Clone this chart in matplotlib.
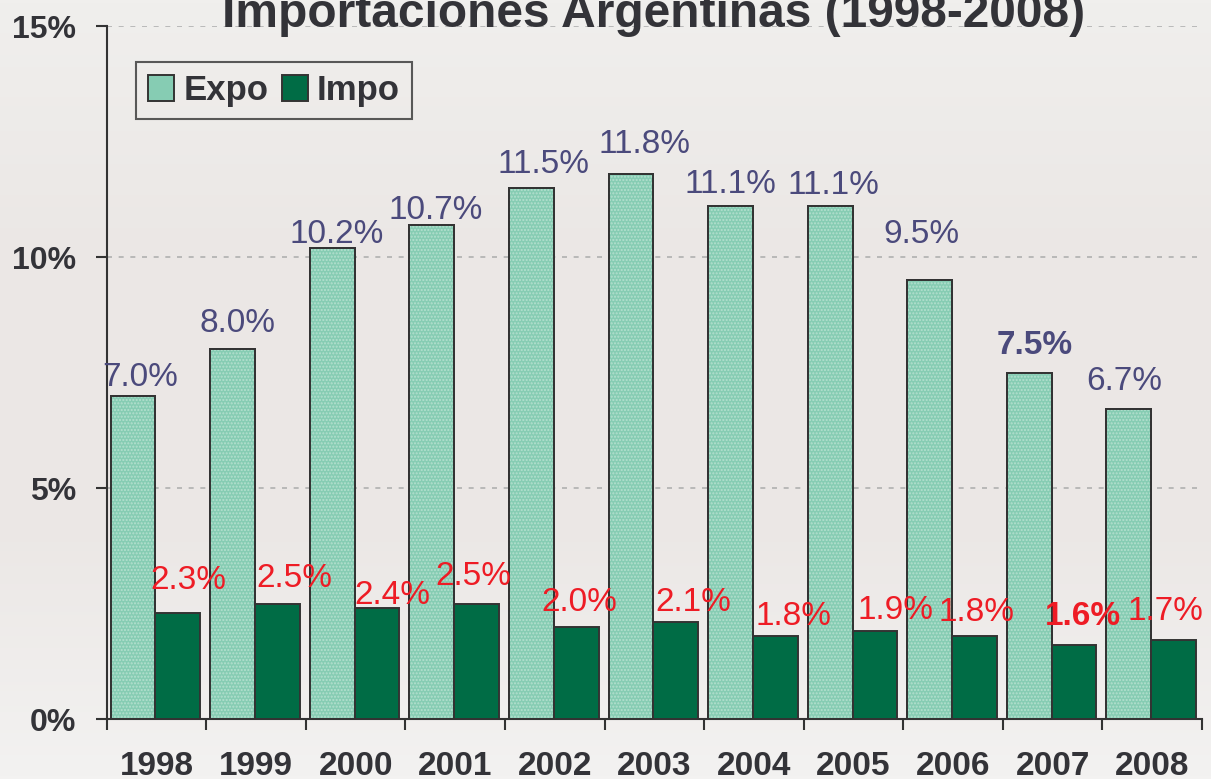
import numpy as np
import matplotlib
matplotlib.use("Agg")
import matplotlib.pyplot as plt
from matplotlib.colors import LinearSegmentedColormap

plt.rcParams['font.family'] = ['Liberation Sans', 'DejaVu Sans']

# data
years = ['1998', '1999', '2000', '2001', '2002', '2003', '2004', '2005', '2006', '2007', '2008']
expo = [7.0, 8.0, 10.2, 10.7, 11.5, 11.8, 11.1, 11.1, 9.5, 7.5, 6.7]
impo = [2.3, 2.5, 2.4, 2.5, 2.0, 2.1, 1.8, 1.9, 1.8, 1.6, 1.7]
bold_year = '2007'

# label nudges (pixels, relative to bar top centre)
expo_dx = [7, 5, 4, 4, 12, 14, 0, 3, -8, 5, -5]
expo_dy = [18, 26, 13, 14, 23, 29, 22, 21, 46, 27, 28]
impo_dx = [10, 17, 15, -3, 3, 18, 18, 21, 2, 9, -8]
impo_dy = [32, 25, 13, 27, 24, 19, 19, 21, 23, 29, 29]

fig = plt.figure(figsize=(12.11, 7.79), dpi=100)

# background gradient
bg = fig.add_axes([0, 0, 1, 1])
cmap = LinearSegmentedColormap.from_list('bg', ['#f0efed', '#ebe7e5', '#ebe7e5', '#f3f2f1'])
bg.imshow(np.linspace(0, 1, 256).reshape(-1, 1), aspect='auto', cmap=cmap, extent=[0, 1, 0, 1])
bg.axis('off')

ax = fig.add_axes([0.0881, 0.0770, 0.9045, 0.8896])
ax.patch.set_alpha(0)

x = np.arange(len(years))
w = 0.45
xe = x - 0.01 - w / 2
xi = x - 0.01 + w / 2

ax.bar(xe, expo, w, color='#86ccb3', edgecolor='#333333', linewidth=1.4, zorder=3, label='Expo')
ax.bar(xe, expo, w, color='none', edgecolor='#b4e0cf', hatch='.....', linewidth=0, zorder=3)
ax.bar(xe, expo, w, color='none', edgecolor='#333333', linewidth=1.4, zorder=3)
ax.bar(xi, impo, w, color='#006c45', edgecolor='#333333', linewidth=1.4, zorder=3, label='Impo')

for i in range(len(years)):
    fw = 'bold' if years[i] == bold_year else 'normal'
    ax.annotate(f'{expo[i]:.1f}%', (xe[i], expo[i]), xytext=(expo_dx[i], expo_dy[i]),
                textcoords='offset pixels', ha='center', va='center', fontsize=24,
                color='#4b4a7c', fontweight=fw, zorder=5)
    ax.annotate(f'{impo[i]:.1f}%', (xi[i], impo[i]), xytext=(impo_dx[i], impo_dy[i]),
                textcoords='offset pixels', ha='center', va='center', fontsize=24,
                color='#ee1c25', fontweight=fw, zorder=5)

ax.set_xlim(-0.5, len(years) - 0.5)
ax.set_ylim(0, 15)
ax.set_yticks([0, 5, 10, 15])
ax.set_yticklabels(['0%', '5%', '10%', '15%'], fontsize=23, fontweight='bold', color='#333338')
ax.set_xticks(x)
ax.set_xticklabels(years, fontsize=24, fontweight='bold', color='#333338')
ax.set_xticks(np.arange(len(years) + 1) - 0.5, minor=True)
ax.tick_params(axis='x', which='major', length=0, pad=23)
ax.tick_params(axis='x', which='minor', length=8, width=1.5, color='#333333', direction='out')
ax.tick_params(axis='y', length=8, width=1.5, color='#333333', pad=14)

for s in ['top', 'right']:
    ax.spines[s].set_visible(False)
for s in ['left', 'bottom']:
    ax.spines[s].set_color('#333333')
    ax.spines[s].set_linewidth(1.5)

ax.yaxis.grid(True, linestyle=(0, (3, 4)), color='#b0b0b0', linewidth=1.2, zorder=0)
ax.set_axisbelow(True)

leg = ax.legend(loc='upper left', bbox_to_anchor=(0.027, 0.948), borderaxespad=0, ncol=2,
                prop={'size': 25, 'weight': 'bold'}, frameon=True, fancybox=False,
                handlelength=0.75, handleheight=0.75, handletextpad=0.25, columnspacing=0.4,
                borderpad=0.35)
leg.get_frame().set_edgecolor('#333333')
leg.get_frame().set_linewidth(1.5)
leg.get_frame().set_facecolor('none')
for t in leg.get_texts():
    t.set_color('#333338')

fig.text(0.54, 1 - 27 / 779, 'Importaciones Argentinas (1998-2008)', ha='center', va='baseline',
         fontsize=34.5, fontweight='bold', color='#333338')

fig.savefig('out.png', dpi=100)
